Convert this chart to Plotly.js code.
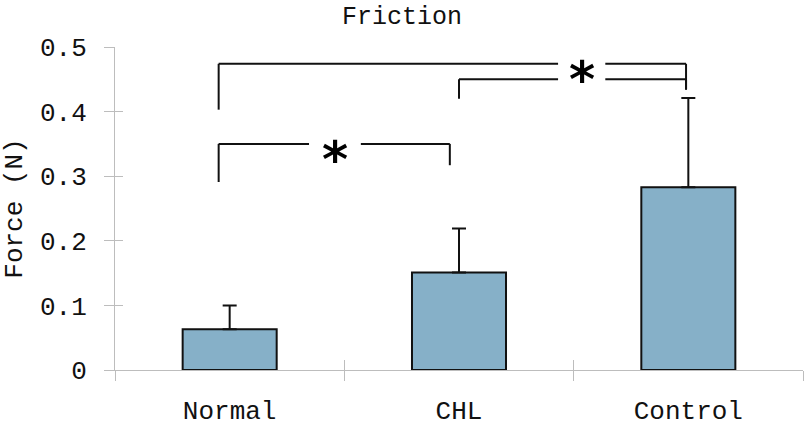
<!DOCTYPE html>
<html>
<head>
<meta charset="utf-8">
<script src="https://cdn.plot.ly/plotly-3.0.1.min.js"></script>
<style>body{margin:0;padding:0;background:#fff}</style>
</head>
<body>
<div id="chart" style="width:804px;height:427px"></div>
<script>
// data
var groups = ['Normal', 'CHL', 'Control'];
var force = [0.063, 0.151, 0.283];
var forceErr = [0.037, 0.068, 0.138];

// significance brackets: left x, right x, level, left drop, right drop, star x
var brLeft = [-0.048, 1.0, -0.048];
var brRight = [1.99, 1.99, 0.96];
var brLevel = [0.474, 0.450, 0.350];
var brLeftEnd = [0.403, 0.420, 0.291];
var brRightEnd = [0.434, 0.434, 0.317];
var starX = [1.535, 1.535, 0.459];
var starGap = [0.103, 0.103, 0.113];
var starLabel = ['*', '', '*'];

var font = 'Liberation Mono, DejaVu Sans Mono, monospace';
var gray = '#bdbdbd';

var bars = {
    type: 'bar',
    x: groups,
    y: force,
    width: 0.41,
    marker: {color: 'rgb(134,176,200)', line: {color: '#111', width: 2}},
    error_y: {type: 'data', symmetric: false, array: forceErr,
        arrayminus: [0, 0, 0], color: '#111', thickness: 2, width: 7},
    hoverinfo: 'none'
};
// empty trace so the overlay axes (inside tick halves) get drawn
var helper = {type: 'scatter', x: [], y: [], xaxis: 'x2', yaxis: 'y2', hoverinfo: 'none'};

var shapes = [];
var annotations = [];
for (var i = 0; i < brLeft.length; i++) {
    var ln = {color: '#111', width: 2};
    shapes.push({type: 'line', xref: 'x', yref: 'y', x0: brLeft[i], x1: brLeft[i], y0: brLeftEnd[i], y1: brLevel[i], line: ln});
    shapes.push({type: 'line', xref: 'x', yref: 'y', x0: brRight[i], x1: brRight[i], y0: brRightEnd[i], y1: brLevel[i], line: ln});
    shapes.push({type: 'line', xref: 'x', yref: 'y', x0: brLeft[i], x1: starX[i] - starGap[i], y0: brLevel[i], y1: brLevel[i], line: ln});
    shapes.push({type: 'line', xref: 'x', yref: 'y', x0: starX[i] + starGap[i], x1: brRight[i], y0: brLevel[i], y1: brLevel[i], line: ln});
    if (starLabel[i]) {
        annotations.push({text: starLabel[i], xref: 'x', yref: 'y', x: starX[i], y: brLevel[i] - 0.013,
            showarrow: false, yanchor: 'middle', yshift: -8,
            font: {family: 'DejaVu Sans', size: 50, weight: 'bold', color: '#000'}});
    }
}

var layout = {
    width: 804,
    height: 427,
    margin: {l: 115, r: 1, t: 47, b: 57},
    paper_bgcolor: '#fff',
    plot_bgcolor: '#fff',
    showlegend: false,
    title: {text: 'Friction', x: 0.5, xref: 'container', xanchor: 'center', y: 0.965, yanchor: 'middle',
        font: {family: font, size: 25, color: '#111'}},
    xaxis: {
        type: 'category',
        range: [-0.5, 2.5],
        tickson: 'boundaries',
        ticks: 'outside', ticklen: 10, tickcolor: gray, tickwidth: 1,
        showline: true, linecolor: gray, linewidth: 1,
        showgrid: false, zeroline: false,
        ticklabelstandoff: 17,
        tickfont: {family: font, size: 26, color: '#111'}
    },
    yaxis: {
        range: [0, 0.5],
        tickvals: [0, 0.1, 0.2, 0.3, 0.4, 0.5],
        ticktext: ['0', '0.1', '0.2', '0.3', '0.4', '0.5'],
        ticks: 'outside', ticklen: 10, tickcolor: gray, tickwidth: 1,
        showline: true, linecolor: gray, linewidth: 1,
        showgrid: false, zeroline: false,
        ticklabelstandoff: 12,
        tickfont: {family: font, size: 26, color: '#111'},
        title: {text: 'Force (N)', standoff: 10, font: {family: font, size: 26, color: '#111'}}
    },
    xaxis2: {
        overlaying: 'x', anchor: 'y2', range: [-0.5, 2.5],
        tickvals: [-0.5, 0.5, 1.5, 2.5],
        ticks: 'inside', ticklen: 10, tickcolor: gray, tickwidth: 1,
        showticklabels: false, showline: false, showgrid: false, zeroline: false
    },
    yaxis2: {
        overlaying: 'y', anchor: 'x2', range: [0, 0.5],
        tickvals: [0, 0.1, 0.2, 0.3, 0.4, 0.5],
        ticks: 'inside', ticklen: 8, tickcolor: gray, tickwidth: 1,
        showticklabels: false, showline: false, showgrid: false, zeroline: false
    },
    shapes: shapes,
    annotations: annotations
};

Plotly.newPlot('chart', [bars, helper], layout, {staticPlot: true});
</script>
</body>
</html>
